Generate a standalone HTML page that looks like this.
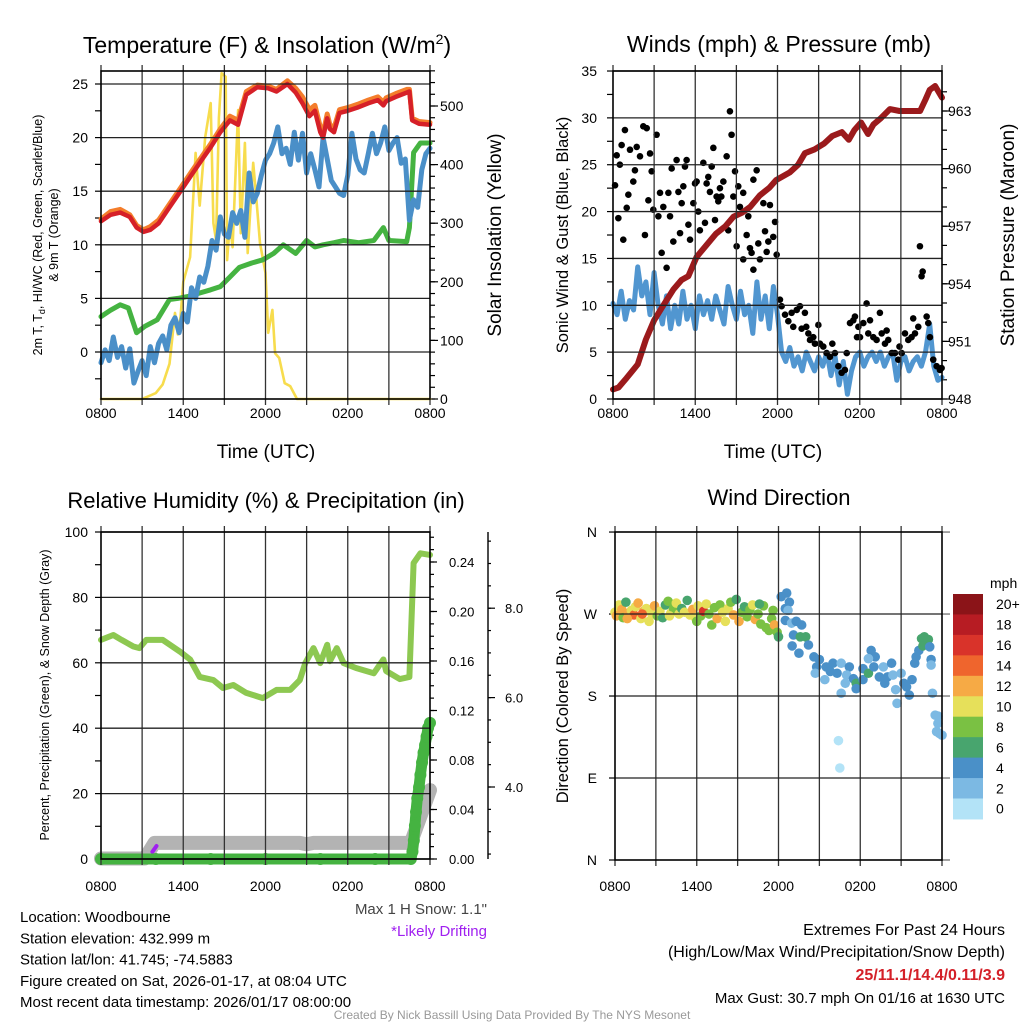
<!DOCTYPE html>
<html><head><meta charset="utf-8"><style>
html,body{margin:0;padding:0;background:#fff;}
svg{display:block;font-family:"Liberation Sans",Arial,sans-serif;}
</style></head><body>
<svg id="chart" width="1024" height="1024" viewBox="0 0 1024 1024" xmlns="http://www.w3.org/2000/svg"></svg>
<script>
// ---------- Panel 1: temperature & insolation ----------
const tempHours=[0,0.7,1.4,2.1,2.6,3.1,3.6,4.2,5,5.8,6.7,7.4,8,8.7,9.4,10,10.6,11.4,12.2,12.8,13.6,14.2,14.7,15.2,15.6,16.0,16.2,16.5,16.7,17.0,17.4,18,18.7,19.5,20.2,20.6,20.8,21.5,22.3,22.5,22.7,23.2,24];
const tempRed=[12.2,12.8,13.0,12.6,11.6,11.2,11.4,12.0,13.5,15.0,16.7,18.0,19.1,20.5,21.6,21.2,24.0,24.7,24.6,24.3,25.0,24.2,23.2,22.0,22.5,20.5,20.0,21.8,20.8,20.5,22.3,22.5,22.8,23.2,23.5,23.0,23.4,23.8,24.2,24.3,21.6,21.3,21.2];
const tempOrange=[12.4,13.1,13.3,12.8,11.8,11.4,11.7,12.3,13.8,15.3,17.0,18.3,19.4,20.8,22.0,21.6,24.3,24.9,24.8,24.5,25.3,24.6,23.8,22.6,23.0,21.0,20.4,22.2,21.2,20.9,22.6,22.8,23.1,23.5,23.8,23.3,23.7,24.1,24.5,24.5,21.8,21.5,21.4];
const hiwcHours=[0,0.3,0.6,0.9,1.2,1.5,1.8,2.1,2.4,2.7,3.0,3.3,3.6,3.9,4.2,4.5,4.8,5.1,5.4,5.7,6.0,6.3,6.6,6.9,7.2,7.5,7.8,8.1,8.4,8.7,9.0,9.3,9.6,9.9,10.2,10.5,10.8,11.1,11.4,11.7,12.0,12.3,12.6,12.9,13.2,13.5,13.8,14.1,14.4,14.7,15.0,15.3,15.6,15.9,16.2,16.5,16.8,17.1,17.4,17.7,18.0,18.3,18.6,18.9,19.2,19.5,19.8,20.1,20.4,20.7,21.0,21.3,21.6,21.9,22.2,22.5,22.8,23.1,23.4,23.7,24.0];
const hiwcBlue=[-1.0,0.2,-0.8,1.4,-0.5,0.5,-1.5,0.3,-2.9,-1.8,-0.8,-2.2,0.5,-1.0,0.8,1.5,0.2,2.5,3.2,1.8,3.6,2.8,6.0,5.0,7.0,6.5,8.0,10.4,9.5,12.6,11.0,10.7,13.0,12.0,13.2,10.7,16.7,14.0,14.8,16.5,17.9,18.5,19.5,21.0,18.5,19.0,17.5,20.5,17.9,20.4,16.7,18.5,17.0,15.4,20.0,18.0,16.0,15.4,14.8,14.6,16.5,20.4,18.0,17.0,16.7,18.5,20.4,18.5,19.5,21.0,18.8,19.5,20.0,17.6,18.0,12.3,14.2,13.5,17.0,18.5,19.0];
const dewHours=[0,0.7,1.4,2.0,2.6,3.2,4.1,5,5.6,6.4,7.2,8,8.7,9.4,10.1,11,11.8,12.6,13.3,14.2,15,15.6,16.2,17,17.7,18.8,19.9,20.6,21.0,22.3,22.5,22.8,23.3,24];
const dewGreen=[3.3,3.9,4.4,4.1,1.8,2.4,3.0,4.9,5.0,5.2,5.5,5.8,6.1,7.0,7.9,8.3,8.6,9.2,10.0,9.2,10.4,9.8,10.0,10.2,10.4,10.2,10.4,11.6,10.4,10.3,11.6,18.6,19.5,19.5];
const solarHours=[0,3.0,3.5,4.0,4.5,5.0,5.4,5.6,5.8,6.0,6.5,6.9,7.2,7.6,8.0,8.2,8.4,8.6,8.8,9.1,9.2,9.4,9.6,10.0,10.2,10.5,10.7,11.1,11.3,11.6,12.0,12.2,12.5,12.7,13.0,13.4,13.8,14.3,24];
const solarVals=[0,0,5,10,25,60,147,110,140,200,242,420,330,447,505,300,271,480,556,550,237,300,259,493,283,437,249,403,351,266,215,113,152,78,70,27,22,0,0];
const timeTickLabels=["0800","1400","2000","0200","0800"];
const tempTicks=[0,5,10,15,20,25];
const solarTicks=[0,100,200,300,400,500];

// ---------- Panel 2: winds & pressure ----------
const windHours=[0,0.3,0.6,0.9,1.2,1.5,1.8,2.1,2.4,2.7,3.0,3.3,3.6,3.9,4.2,4.5,4.8,5.1,5.4,5.7,6.0,6.3,6.6,6.9,7.2,7.5,7.8,8.1,8.4,8.7,9.0,9.3,9.6,9.9,10.2,10.5,10.8,11.1,11.4,11.7,12.0,12.3,12.6,12.9,13.2,13.5,13.8,14.1,14.4,14.7,15.0,15.3,15.6,15.9,16.2,16.5,16.8,17.1,17.4,17.7,18.0,18.3,18.6,18.9,19.2,19.5,19.8,20.1,20.4,20.7,21.0,21.3,21.6,21.9,22.2,22.5,22.8,23.1,23.4,23.7,24.0];
const windSpeed=[10.2,9.0,11.5,8.5,10.5,9.5,14.1,11.0,12.5,9.0,13.5,10.0,8.0,11.0,7.5,10.0,8.0,11.5,8.5,10.0,7.5,11.0,9.0,10.5,8.5,11.0,9.5,8.0,12.0,10.0,8.5,11.5,9.0,10.0,7.0,12.5,8.5,11.0,7.5,12.0,9.0,5.0,4.0,5.5,3.5,4.5,3.0,5.0,4.0,3.0,4.5,3.5,5.0,2.5,4.5,1.5,4.0,0.5,3.0,4.5,5.0,3.5,4.5,5.0,4.0,5.0,3.5,4.5,5.0,2.0,4.0,4.5,3.0,4.0,4.5,3.5,5.0,8.0,3.5,2.0,2.3];
const gustHours=[0.15,0.27,0.63,0.39,0.75,0.87,1.0,1.12,1.24,1.48,1.73,1.97,2.21,2.46,2.33,2.7,2.82,3.18,2.94,3.31,3.43,3.55,3.67,3.91,4.04,4.28,4.4,4.64,4.77,4.89,5.01,5.13,5.25,5.5,5.62,5.37,5.86,6.1,6.22,6.34,6.59,6.71,6.83,6.95,7.07,7.2,7.32,7.44,7.56,7.68,7.8,8.05,8.29,8.41,8.53,8.65,8.78,8.9,9.02,9.26,9.5,9.5,9.75,9.99,10.11,10.24,10.24,10.48,10.6,10.72,10.97,11.09,11.21,11.33,11.45,11.69,11.82,11.94,0.5,1.6,2.58,4.16,5.98,7.9,9.14,9.87,
12.18,12.3,12.55,12.79,13.03,13.15,13.4,13.64,13.76,14.0,14.25,14.37,14.61,14.73,14.98,15.1,15.34,15.58,15.83,16.19,16.44,16.68,16.92,17.05,17.29,17.53,17.65,17.9,18.02,18.26,18.5,18.62,18.75,18.99,19.23,19.47,19.6,19.84,20.08,20.33,20.57,20.81,21.06,21.3,21.54,21.78,21.9,22.03,22.39,22.51,22.59,22.88,23.0,23.12,23.36,23.61,23.85,23.97,14.1,16.0,17.8,19.96,20.9,22.27];
const gustVals=[22.8,26.0,27.1,19.3,17.0,28.7,20.4,21.8,26.6,23.2,26.9,25.9,29.1,28.9,17.5,26.2,24.3,28.2,20.2,19.5,22.0,15.6,20.5,14.0,22.0,24.6,16.8,25.5,22.1,17.7,20.9,22.7,24.8,18.6,17.0,25.5,20.9,23.2,20.0,18.0,25.2,18.8,23.0,23.7,22.1,24.8,26.8,19.1,21.6,21.1,22.5,23.2,25.9,18.0,30.7,28.2,21.6,24.3,16.3,20.5,22.0,14.9,17.5,16.1,15.6,23.4,13.8,24.4,16.6,14.9,20.9,17.9,15.7,16.8,20.7,17.3,18.9,15.4,25.0,24.4,21.2,19.5,23.0,21.6,22.7,19.5,
10.6,9.9,9.0,8.3,9.2,7.7,9.5,9.9,7.5,9.2,7.0,6.3,6.6,5.9,7.9,5.9,5.6,4.9,4.5,4.9,3.5,2.8,3.1,4.9,8.1,8.4,8.8,7.7,6.6,8.1,10.2,7.0,8.4,6.6,6.3,9.2,7.0,5.9,6.3,4.9,4.9,4.2,4.9,7.0,6.3,6.6,8.6,7.0,16.3,13.1,13.6,8.8,8.1,6.6,4.2,3.5,3.1,3.3,7.7,5.9,6.6,7.3,5.6,7.7];
const presHours=[0,0.4,1.0,1.8,2.4,3.0,3.6,4.4,5.0,5.5,6.1,6.8,7.5,8.2,8.8,9.4,10.0,10.7,11.4,11.9,12.9,13.5,14.0,14.7,15.4,16.0,16.7,17.2,17.6,18.1,18.6,19.0,19.5,20.2,20.9,21.6,22.4,22.8,23.1,23.5,24];
const presVals=[948.5,948.6,949.1,949.8,951.1,952.1,952.8,953.7,954.2,954.4,955.4,956.0,956.6,957.0,957.5,957.7,958.0,958.6,959.0,959.4,959.8,960.2,960.8,961.0,961.3,961.7,961.9,961.5,962.0,962.4,961.8,962.3,962.6,963.1,963.0,963.0,963.0,963.6,964.1,964.3,963.7];
const windTicks=[0,5,10,15,20,25,30,35];
const presTicks=[948,951,954,957,960,963];

// ---------- Panel 3: RH, precip, snow ----------
const rhHours=[0,0.9,1.5,2.36,2.8,3.3,4.5,5.8,6.5,7.2,8.2,8.9,9.65,10.6,11.8,12.8,13.8,14.5,14.9,15.5,16.0,16.5,16.7,17.2,17.7,18.6,19.9,20.6,20.8,21.8,22.5,22.8,23.3,24];
const rhVals=[67,68.5,67,65,64.5,67,67,63.3,61,55.7,54.7,52.3,53.2,50.8,49.2,51.7,51.7,54.7,59.9,64.5,59.9,65.5,60.5,64.5,59.9,58.4,56.8,61,57.5,55,55.7,90.5,93.5,93];
const precipHours=[0,4,8,12,16,20,22.6,22.72,22.82,22.9,22.98,23.07,23.2,23.3,23.42,23.53,23.64,23.75,23.86,24];
const precipVals=[0,0,0,0,0,0,0,0.006,0.015,0.027,0.038,0.049,0.058,0.068,0.078,0.086,0.092,0.099,0.106,0.11];
const snowHours=[0,3.2,3.9,14.5,15.0,15.5,22.6,24];
const snowVals=[2.4,2.4,2.75,2.75,2.72,2.75,2.75,3.93];
const driftHours=[3.75,4.05];
const driftVals=[2.55,2.68];
const rhTicks=[0,20,40,60,80,100];
const precipTicks=["0.00","0.04","0.08","0.12","0.16","0.20","0.24"];
const snowTicks=["4.0","6.0","8.0"];

// ---------- Panel 4: wind direction ----------
const dirHours=[0.0,0.1,0.3,0.5,0.6,0.8,1.0,1.2,1.4,1.5,1.7,1.9,2.1,2.3,2.5,2.7,2.9,3.1,3.3,3.5,3.7,3.9,4.1,4.3,4.5,4.7,4.9,5.1,5.3,5.5,5.7,5.9,6.1,6.3,6.5,6.7,6.9,7.1,7.3,7.5,7.7,7.9,8.1,8.3,8.5,8.7,8.9,9.1,9.3,9.5,9.7,9.9,10.1,10.3,10.5,10.7,10.9,11.1,11.3,11.5,11.7,11.9,12.0,11.6,10.6,2.0,0.9,4.0,6.0,
12.2,12.6,12.8,12.5,12.7,12.5,12.96,13.3,13.7,13.1,13.6,14.0,14.2,13.0,13.5,14.6,15.0,14.8,14.7,15.5,15.4,16.0,16.3,15.8,16.6,17.2,17.0,17.5,16.9,16.6,16.4,16.5,17.7,17.7,18.2,18.2,18.6,18.8,19.1,19.0,18.6,19.7,19.4,19.8,20.0,20.3,20.4,20.7,20.6,21.0,21.2,21.4,21.6,21.8,22.0,22.1,22.3,22.5,22.7,23.0,22.6,23.1,23.2,23.2,23.3,23.5,23.7,24.0,23.7,23.6,23.8];
const dirVals=[272,268,280,275,266,283,271,274,269,278,282,265,273,276,262,270,279,268,273,266,280,284,271,276,282,270,276,272,285,269,275,266,279,268,273,281,270,258,277,265,280,272,262,276,283,269,286,262,272,278,267,275,280,264,270,259,279,255,252,265,258,250,245,274,281,270,265,268,262,
289,293,283,276,274,263,260,262,258,247,245,245,236,235,227,223,220,212,205,212,198,216,205,207,216,212,203,199,194,183,131,101,194,188,210,198,205,230,223,212,221,212,201,194,201,216,203,172,187,205,194,190,181,198,216,223,230,243,245,242,235,234,220,214,183,159,150,137,158,141,139];
const dirSpeeds=[10,13,11,12,9,7,13,11,15,10,13,10,12,11,10,11,12,9,10,6,7,9,10,8,11,10,6,11,7,10,12,10,11,8,16,10,8,9,8,12,9,10,11,10,8,12,7,12,9,6,8,9,10,12,8,8,8,9,8,8,12,8,6,8,7,14,12,10,9,
4,4,4,4,3,4,3,4,4,4,6,6,4,4,4,4,4,4,3,4,3,4,4,4,3,4,3,4,3,2,1,1,6,4,4,4,6,4,4,4,3,3,4,4,4,4,3,3,3,3,4,4,4,4,4,4,4,7,6,6,7,4,4,3,2,2,2,2,2,2,2];
const dirTickLabels=["N","E","S","W","N"];
const speedBinLabels=["0","2","4","6","8","10","12","14","16","18","20+"];
const speedBinColors=["#b3e3f7","#7cb9e3","#4a90c8","#48a56e","#7ac143","#e6e05a","#f6aa45","#ef652d","#d9332a","#b71c23","#8b1418"];

const NS="http://www.w3.org/2000/svg";
const svg=document.getElementById('chart');
function el(tag,attrs,parent){const e=document.createElementNS(NS,tag);for(const k in attrs)e.setAttribute(k,attrs[k]);(parent||svg).appendChild(e);return e;}
function txt(s,x,y,size,anchor,parent,extra){const t=el('text',Object.assign({x:x,y:y,'font-size':size,'text-anchor':anchor||'start',fill:'#000'},extra||{}),parent);t.textContent=s;return t;}
function group(name){const g=el('g',{});return g;}

function frame(p,name,hLines){
  const g=group(name);
  const xs=h=>p.x0+(p.x1-p.x0)*h/24;
  for(let h=3;h<24;h+=3){const l=el('line',{x1:xs(h),y1:p.y0,x2:xs(h),y2:p.y1,stroke:'#333','stroke-width':1.3},g);}
  hLines.forEach(y=>{const l=el('line',{x1:p.x0,y1:y,x2:p.x1,y2:y,stroke:'#222','stroke-width':1.3},g);});
  for(let h=0;h<=24;h+=3){el('line',{x1:xs(h),y1:p.y1,x2:xs(h),y2:p.y1+6,stroke:'#333','stroke-width':1.3},g);el('line',{x1:xs(h),y1:p.y0,x2:xs(h),y2:p.y0-6,stroke:'#333','stroke-width':1.3},g);}
  const b=el('rect',{x:p.x0,y:p.y0,width:p.x1-p.x0,height:p.y1-p.y0,fill:'none',stroke:'#000','stroke-width':1.6},g);
  
  timeTickLabels.forEach((s,i)=>{const t=txt(s,xs(i*6),p.labY,14,'middle',g);});
  return xs;
}
function yTicks(g,x,list,yf,dir,len){list.forEach(v=>el('line',{x1:x,y1:yf(v),x2:x+dir*len,y2:yf(v),stroke:'#000','stroke-width':1.2},g));}
function poly(g,hs,vs,xs,yf,color,w,name){
  const pts=hs.map((h,i)=>xs(h).toFixed(1)+','+yf(vs[i]).toFixed(1)).join(' ');
  const p=el('polyline',{points:pts,fill:'none',stroke:color,'stroke-width':w,'stroke-linejoin':'round','stroke-linecap':'round'},g);
  return p;
}
function range(a,b,s){const r=[];for(let v=a;v<=b+1e-9;v+=s)r.push(+v.toFixed(4));return r;}

// ===== Panel 1 =====
(function(){
  const p={x0:101,x1:430,y0:71,y1:399,labY:418};
  const yL=v=>352-v*10.72, yR=v=>399-v*0.586;
  const g=group('temperature-panel');
  const xs=frame(p,'temperature-axes',tempTicks.map(yL));
  yTicks(g,p.x0,range(-2.5,25,2.5),yL,-1,6);
  yTicks(g,p.x1,range(0,560,20),yR,1,5);
  yTicks(g,p.x1,solarTicks,yR,1,8);
  tempTicks.forEach(v=>{const t=txt(String(v),88,yL(v)+5,14,'end',g);});
  solarTicks.forEach(v=>{const t=txt(String(v),440,yR(v)+5,14,'start',g);});
  poly(g,solarHours,solarVals,xs,yR,'#f7dc4d',2.6,'solar-insolation-line');
  poly(g,dewHours,dewGreen,xs,yL,'#45b341',5,'dewpoint-line');
  poly(g,hiwcHours,hiwcBlue,xs,yL,'#4a8fc8',5,'wind-chill-line');
  poly(g,tempHours,tempOrange,xs,yL,'#f47d2b',5,'temp-9m-line');
  poly(g,tempHours,tempRed,xs,yL,'#d62028',4.5,'temp-2m-line');
  const t=el('text',{x:267,y:53,'font-size':23,'text-anchor':'middle'},g);t.innerHTML='Temperature (F) &amp; Insolation (W/m<tspan dy="-9" font-size="14">2</tspan><tspan dy="9">)</tspan>';
  
  const xt=txt('Time (UTC)',266,458,19,'middle',g);
  const a=el('text',{transform:'translate(42,235) rotate(-90)','font-size':12.5,'text-anchor':'middle'},g);a.innerHTML='2m T, T<tspan dy="3" font-size="9">d</tspan><tspan dy="-3">, HI/WC (Red, Green, Scarlet/Blue)</tspan>';
  
  const a2=el('text',{transform:'translate(58,235) rotate(-90)','font-size':12.5,'text-anchor':'middle'},g);a2.textContent='& 9m T (Orange)';
  
  const r=el('text',{transform:'translate(501,235) rotate(-90)','font-size':19,'text-anchor':'middle'},g);r.textContent='Solar Insolation (Yellow)';
  
})();

// ===== Panel 2 =====
(function(){
  const p={x0:613,x1:942,y0:71,y1:399,labY:418};
  const yL=v=>399-v*9.371, yR=v=>399-(v-948)*19.2;
  const g=group('winds-panel');
  const xs=frame(p,'winds-axes',windTicks.map(yL));
  yTicks(g,p.x0,range(0,35,2.5),yL,-1,6);
  yTicks(g,p.x1,range(948,964,1),yR,1,5);
  yTicks(g,p.x1,presTicks,yR,1,8);
  windTicks.forEach(v=>{const t=txt(String(v),597,yL(v)+5,14,'end',g);});
  presTicks.forEach(v=>{const t=txt(String(v),948,yR(v)+5,14,'start',g);});
  poly(g,windHours,windSpeed,xs,yL,'#5196d0',5,'sonic-wind-line');
  gustHours.forEach((h,i)=>{const c=el('circle',{cx:xs(h),cy:yL(gustVals[i]),r:3.3,fill:'#000'},g);});
  poly(g,presHours,presVals,xs,yR,'#9b1a1c',6,'pressure-line');
  const t=txt('Winds (mph) & Pressure (mb)',779,52,23,'middle',g);
  const xt=txt('Time (UTC)',773,458,19,'middle',g);
  const a=el('text',{transform:'translate(568,235) rotate(-90)','font-size':16.5,'text-anchor':'middle'},g);a.textContent='Sonic Wind & Gust (Blue, Black)';
  
  const r=el('text',{transform:'translate(1014,235) rotate(-90)','font-size':19,'text-anchor':'middle'},g);r.textContent='Station Pressure (Maroon)';
  
})();

// ===== Panel 3 =====
(function(){
  const p={x0:101,x1:430,y0:532,y1:859,labY:891};
  const yL=v=>859-v*3.27, yP=v=>859-v*1237.5, yS=v=>787-(v-4)*44.7;
  const g=group('humidity-panel');
  const xs=frame(p,'humidity-axes',rhTicks.map(yL));
  yTicks(g,p.x0,range(0,100,10),yL,-1,6);
  yTicks(g,p.x1,range(0,0.26,0.01),yP,1,4);
  yTicks(g,p.x1,precipTicks.map(Number),yP,1,7);
  el('line',{x1:488,y1:532,x2:488,y2:859,stroke:'#000','stroke-width':1.4},g);
  yTicks(g,488,range(2.5,9.5,0.5),yS,1,3);
  yTicks(g,488,snowTicks.map(Number),yS,1,7);
  rhTicks.forEach(v=>{const t=txt(String(v),88,yL(v)+5,14,'end',g);});
  precipTicks.forEach(s=>{const t=txt(s,449,yP(Number(s))+5,13,'start',g);});
  snowTicks.forEach(s=>{const t=txt(s,505,yS(Number(s))+5,13,'start',g);});
  poly(g,rhHours,rhVals,xs,yL,'#8dc851',6,'relative-humidity-line');
  poly(g,snowHours,snowVals,xs,yS,'#b3b3b3',14,'snow-depth-line');
  poly(g,driftHours,driftVals,xs,yS,'#a020f0',4,'drifting-snow-mark');
  poly(g,precipHours,precipVals,xs,yP,'#45b341',11,'precip-line');
  precipHours.forEach((h,i)=>{const c=el('circle',{cx:xs(h),cy:yP(precipVals[i]),r:6,fill:'#45b341'},g);});
  const t=txt('Relative Humidity (%) & Precipitation (in)',266,508,22,'middle',g);
  const a=el('text',{transform:'translate(49,695) rotate(-90)','font-size':12.5,'text-anchor':'middle'},g);a.textContent='Percent, Precipitation (Green), & Snow Depth (Gray)';
  
})();

// ===== Panel 4 =====
(function(){
  const p={x0:615,x1:942,y0:532,y1:860,labY:891};
  const yD=v=>860-v*0.911;
  const g=group('wind-direction-panel');
  const xs=frame(p,'wind-direction-axes',[90,180,270].map(yD));
  dirTickLabels.forEach((s,i)=>{el('line',{x1:p.x0,y1:yD(i*90),x2:p.x0-6,y2:yD(i*90),stroke:'#000','stroke-width':1.2},g);const t=txt(s,597,yD(i*90)+5,14,'end',g);});
  [0,90,180,270,360].forEach(v=>el('line',{x1:p.x1,y1:yD(v),x2:p.x1+8,y2:yD(v),stroke:'#666','stroke-width':1.2},g));
  dirHours.forEach((h,i)=>{const b=Math.min(10,Math.floor(dirSpeeds[i]/2));const c=el('circle',{cx:xs(h),cy:yD(dirVals[i]),r:4.8,fill:speedBinColors[b]},g);});
  const t=txt('Wind Direction',779,505,22,'middle',g);
  const a=el('text',{transform:'translate(568,696) rotate(-90)','font-size':16.5,'text-anchor':'middle'},g);a.textContent='Direction (Colored By Speed)';
  
  const cb=group('speed-colorbar');
  const cellH=20.45, top=594;
  speedBinColors.forEach((c,i)=>{const idx=10-i;const r=el('rect',{x:953,y:top+i*cellH,width:30,height:cellH+0.5,fill:speedBinColors[idx]},cb);
    const l=txt(speedBinLabels[idx],996,top+i*cellH+cellH/2+5,14,'start',cb);});
  const m=txt('mph',990,588,14,'start',cb);
})();

// ===== Footer text =====
(function(){
  const g=group('footer');
  const lines=["Location: Woodbourne","Station elevation: 432.999 m","Station lat/lon: 41.745; -74.5883","Figure created on Sat, 2026-01-17, at 08:04 UTC","Most recent data timestamp: 2026/01/17 08:00:00"];
  lines.forEach((s,i)=>{const t=txt(s,20,922+i*21.3,15,'start',g);});
  let t=txt('Max 1 H Snow: 1.1"',487,914,15,'end',g,{fill:'#444'});
  t=txt('*Likely Drifting',487,936,15,'end',g,{fill:'#a020f0'});
  t=txt('Extremes For Past 24 Hours',1005,935,16,'end',g);
  t=txt('(High/Low/Max Wind/Precipitation/Snow Depth)',1005,957,16,'end',g);
  t=txt('25/11.1/14.4/0.11/3.9',1005,980,16,'end',g,{fill:'#d42028','font-weight':'bold'});
  t=txt('Max Gust: 30.7 mph On 01/16 at 1630 UTC',1005,1003,15,'end',g);
  t=txt('Created By Nick Bassill Using Data Provided By The NYS Mesonet',512,1019,12,'middle',g,{fill:'#999'});
})();
</script>
</body></html>
